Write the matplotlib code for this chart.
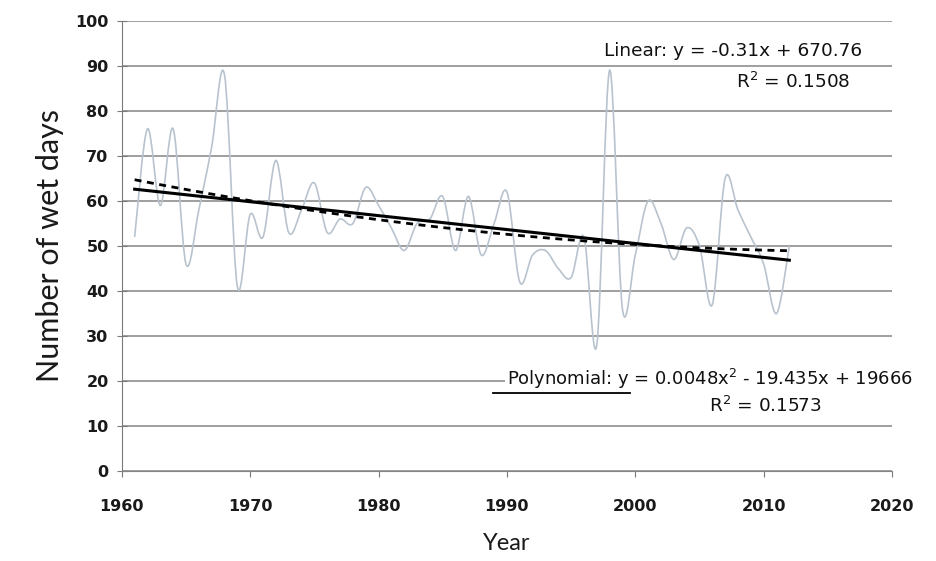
import numpy as np
from matplotlib import pyplot as plt
from matplotlib.path import Path
from matplotlib.patches import PathPatch

# data
years = list(range(1961, 2013))
wet_days = [52, 76, 59, 76, 46, 58, 72, 88, 41, 57,
            52, 69, 53, 58, 64, 53, 56, 55, 63, 59,
            54, 49, 55, 56, 61, 49, 61, 48, 55, 62,
            42, 48, 49, 45, 43, 52, 28, 89, 36, 48,
            60, 55, 47, 54, 50, 37, 65, 58, 52, 46,
            35, 50]

x_ticks = [1960, 1970, 1980, 1990, 2000, 2010, 2020]
y_ticks = [0, 10, 20, 30, 40, 50, 60, 70, 80, 90, 100]

linear_text = "Linear: y = -0.31x + 670.76"
linear_r2 = "R$^2$ = 0.1508"
poly_text = "Polynomial: y = 0.0048x$^2$ - 19.435x + 19666"
poly_r2 = "R$^2$ = 0.1573"


def smooth_path(xs, ys):
    # excel style "smoothed line": bezier segments through every point
    pts = np.column_stack([xs, ys]).astype(float)
    n = len(pts)
    verts = [pts[0]]
    codes = [Path.MOVETO]
    for i in range(n - 1):
        p0 = pts[max(i - 1, 0)]
        p1 = pts[i]
        p2 = pts[i + 1]
        p3 = pts[min(i + 2, n - 1)]
        c1 = p1 + (p2 - p0) / 6.0
        c2 = p2 - (p3 - p1) / 6.0
        verts += [c1, c2, p2]
        codes += [Path.CURVE4] * 3
    return Path(verts, codes)


def main():
    fig = plt.figure(figsize=(9.37, 5.61), dpi=100)
    ax = fig.add_axes([0.130, 0.160, 0.822, 0.803])

    ax.set_xlim(1960, 2020)
    ax.set_ylim(0, 100)

    # gridlines
    ax.set_yticks(y_ticks)
    ax.set_xticks(x_ticks)
    ax.yaxis.grid(True, color="#858585", linewidth=1.1)
    ax.set_axisbelow(True)

    # data series (smoothed)
    patch = PathPatch(smooth_path(years, wet_days), facecolor="none",
                      edgecolor="#b8c3ce", linewidth=1.2, zorder=2)
    ax.add_patch(patch)

    x = np.array(years, dtype=float)
    y = np.array(wet_days, dtype=float)

    # trend lines
    lin = np.polyfit(x, y, 1)
    ax.plot(x, np.polyval(lin, x), color="black", linewidth=2.2, zorder=3)
    quad = np.polyfit(x - 1986.5, y, 2)
    ax.plot(x, np.polyval(quad, x - 1986.5), color="black", linewidth=2.0,
            linestyle=(0, (2.5, 2)), zorder=3)

    # equations
    ax.text(1997.6, 93.2, linear_text, fontsize=13.3, color="#111111",
            ha="left", va="center", zorder=4)
    ax.text(2012.3, 86.5, linear_r2, fontsize=13.3, color="#111111",
            ha="center", va="center", zorder=4)
    ax.text(1990.0, 20.4, poly_text, fontsize=13.0, color="#111111",
            ha="left", va="center", clip_on=False, zorder=4,
            bbox=dict(facecolor="white", edgecolor="none", pad=1.0))
    ax.text(2010.1, 14.6, poly_r2, fontsize=13.3, color="#111111",
            ha="center", va="center", zorder=4)
    ax.plot([1988.9, 1999.6], [17.4, 17.4], color="black", linewidth=1.3,
            zorder=5)

    # axes look
    for s in ["top", "right"]:
        ax.spines[s].set_visible(False)
    ax.spines["left"].set_color("#7a7a7a")
    ax.spines["bottom"].set_color("#858585")
    ax.tick_params(axis="y", direction="inout", length=7, color="#7a7a7a",
                   labelsize=11.5, pad=6)
    ax.tick_params(axis="x", direction="out", length=4, color="#7a7a7a",
                   labelsize=11.5, pad=16)
    for lab in ax.get_xticklabels() + ax.get_yticklabels():
        lab.set_fontweight("bold")
        lab.set_color("#1a1a1a")

    ax.set_ylabel("Number of wet days", fontsize=22, family="Lato",
                  color="#1a1a1a", labelpad=8)
    ax.set_xlabel("Year", fontsize=17, family="Lato", color="#1a1a1a",
                  labelpad=14)

    fig.savefig("out.png", dpi=100, facecolor="white")


if __name__ == "__main__":
    main()
